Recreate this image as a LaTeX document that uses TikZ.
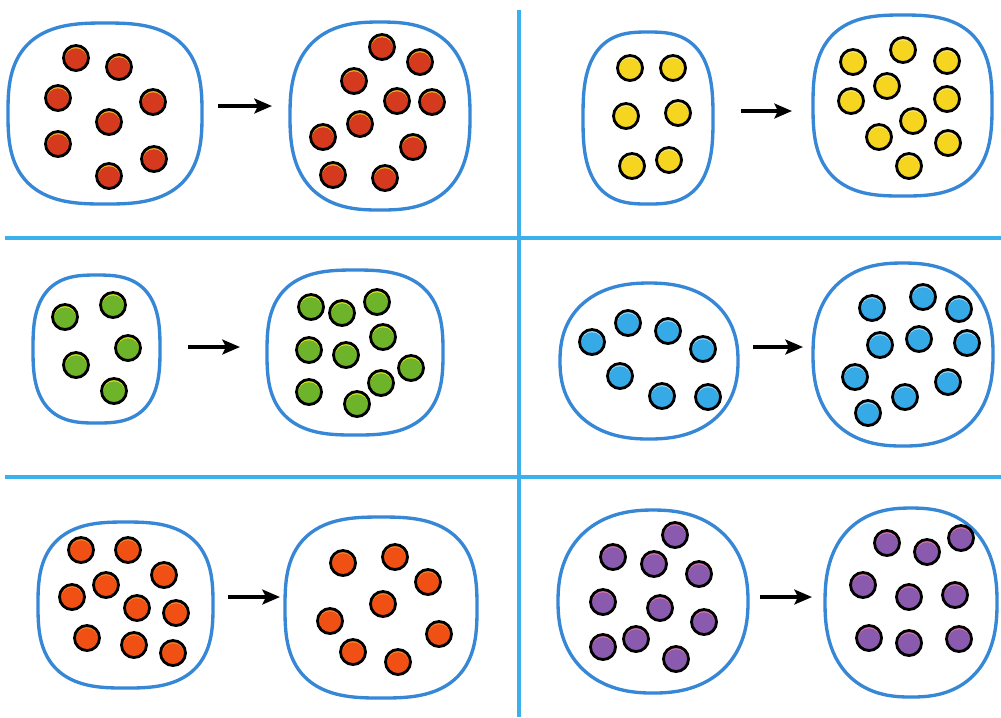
\documentclass[tikz,border=0pt]{standalone}
\usetikzlibrary{arrows.meta}
\definecolor{blobblue}{HTML}{3787D7}
\definecolor{divblue}{HTML}{3CB0EB}
\definecolor{redm}{HTML}{D63A1E}\definecolor{redh}{HTML}{F0B428}
\definecolor{yelm}{HTML}{F5D520}\definecolor{yelh}{HTML}{FAEB80}
\definecolor{grnm}{HTML}{6DB42A}\definecolor{grnh}{HTML}{DCE61E}
\definecolor{cyam}{HTML}{35AAE6}\definecolor{cyah}{HTML}{A0DCFA}
\definecolor{orgm}{HTML}{F05014}\definecolor{orgh}{HTML}{FA8A30}
\definecolor{purm}{HTML}{8A5AAF}\definecolor{purh}{HTML}{DC78AA}
\tikzset{
  blob/.style={draw=blobblue, line width=0.95pt},
  divider/.style={draw=divblue, line width=1pt},
  reaction/.style={-{Stealth[length=5pt,width=4.2pt,inset=1pt]}, line width=1.1pt, black},
  pics/ball/.style 2 args={code={
    \fill[#2] (0,0) circle (0.125cm);
    \fill[#1] (0cm,-0.014cm) circle (0.111cm);
    \draw[line width=0.8pt, black] (0,0) circle (0.125cm);
  }}
}
\newcommand\blobpath[5]{\draw[blob] plot[domain=2.5:357.5, samples=72, smooth cycle, variable=\t]
  ({#1+#3*cos(\t)*pow(abs(cos(\t)),2/#5-1)}, {#2+#4*sin(\t)*pow(abs(sin(\t)),2/#5-1)});}
\begin{document}
\begin{tikzpicture}[x=0.01cm, y=-0.01cm]
\useasboundingbox (0,0) rectangle (1001,717);
\fill[white] (0,0) rectangle (1001,717);
% dividers
\coordinate (h1a) at (5,238); \coordinate (h1b) at (1001,238);
\coordinate (h2a) at (5,477); \coordinate (h2b) at (1001,477);
\coordinate (v1a) at (519,10); \coordinate (v1b) at (519,717);
\draw[divider] (h1a) -- (h1b);
\draw[divider] (h2a) -- (h2b);
\draw[divider] (v1a) -- (v1b);
% blobs
\blobpath{105}{113.5}{97}{90.5}{2.8}
\blobpath{380}{116}{90}{94}{2.6}
\blobpath{648}{118}{65}{86}{2.8}
\blobpath{902.5}{105.5}{89.5}{90.5}{2.8}
\blobpath{96.5}{349}{63.5}{74}{2.8}
\blobpath{355}{352.5}{88}{82.5}{2.8}
\blobpath{649}{361}{89}{78}{2.3}
\blobpath{903}{354.5}{90}{91.5}{2.4}
\blobpath{125.5}{605}{87.5}{83}{2.8}
\blobpath{381}{607.5}{96}{90.5}{2.8}
\blobpath{653}{601.5}{95}{91.5}{2.3}
\blobpath{911}{602.5}{86}{94.5}{2.4}
% arrows
\coordinate (a1s) at (218,106); \coordinate (a1e) at (272,106);
\coordinate (a2s) at (741,111); \coordinate (a2e) at (792,111);
\coordinate (a3s) at (188,347); \coordinate (a3e) at (240,347);
\coordinate (a4s) at (753,347); \coordinate (a4e) at (803,347);
\coordinate (a5s) at (228,597); \coordinate (a5e) at (280,597);
\coordinate (a6s) at (760,597); \coordinate (a6e) at (812,597);
\foreach \i in {1,...,6} \draw[reaction] (a\i s) -- (a\i e);
% red
\foreach \p in {(76,58),(119,67),(58,98),(153,102),(109,122),(58,144),(154,159),(109,176),
  (382,47),(420,62),(354,81),(397,101),(432,102),(360,124),(323,137),(413,147),(333,175),(385,178)}
  \pic at \p {ball={redm}{redh}};
% yellow
\foreach \p in {(630,68),(673,68),(626,116),(678,113),(632,166),(669,160),
  (853,62),(903,50),(947,61),(887,86),(851,101),(947,99),(913,121),(879,137),(948,143),(909,166)}
  \pic at \p {ball={yelm}{yelh}};
% green
\foreach \p in {(65,317),(113,305),(128,348),(76,365),(114,391),
  (311,307),(342,313),(377,302),(383,337),(309,350),(346,355),(411,368),(309,392),(381,383),(357,404)}
  \pic at \p {ball={grnm}{grnh}};
% cyan
\foreach \p in {(592,342),(628,323),(668,331),(703,349),(620,376),(662,396),(708,397),
  (872,308),(923,297),(959,309),(880,345),(919,339),(967,343),(855,377),(948,382),(905,397),(868,413)}
  \pic at \p {ball={cyam}{cyah}};
% orange
\foreach \p in {(81,550),(128,550),(164,575),(72,597),(106,585),(137,608),(176,613),(87,638),(134,645),(173,653),
  (343,563),(395,557),(428,582),(383,604),(330,621),(439,634),(353,652),(398,662)}
  \pic at \p {ball={orgm}{orgh}};
% purple
\foreach \p in {(675,535),(613,557),(654,564),(699,574),(603,602),(660,608),(704,622),(603,647),(636,639),(676,659),
  (887,543),(927,552),(961,538),(863,585),(909,597),(955,595),(869,638),(909,643),(959,639)}
  \pic at \p {ball={purm}{purh}};
\end{tikzpicture}
\end{document}
